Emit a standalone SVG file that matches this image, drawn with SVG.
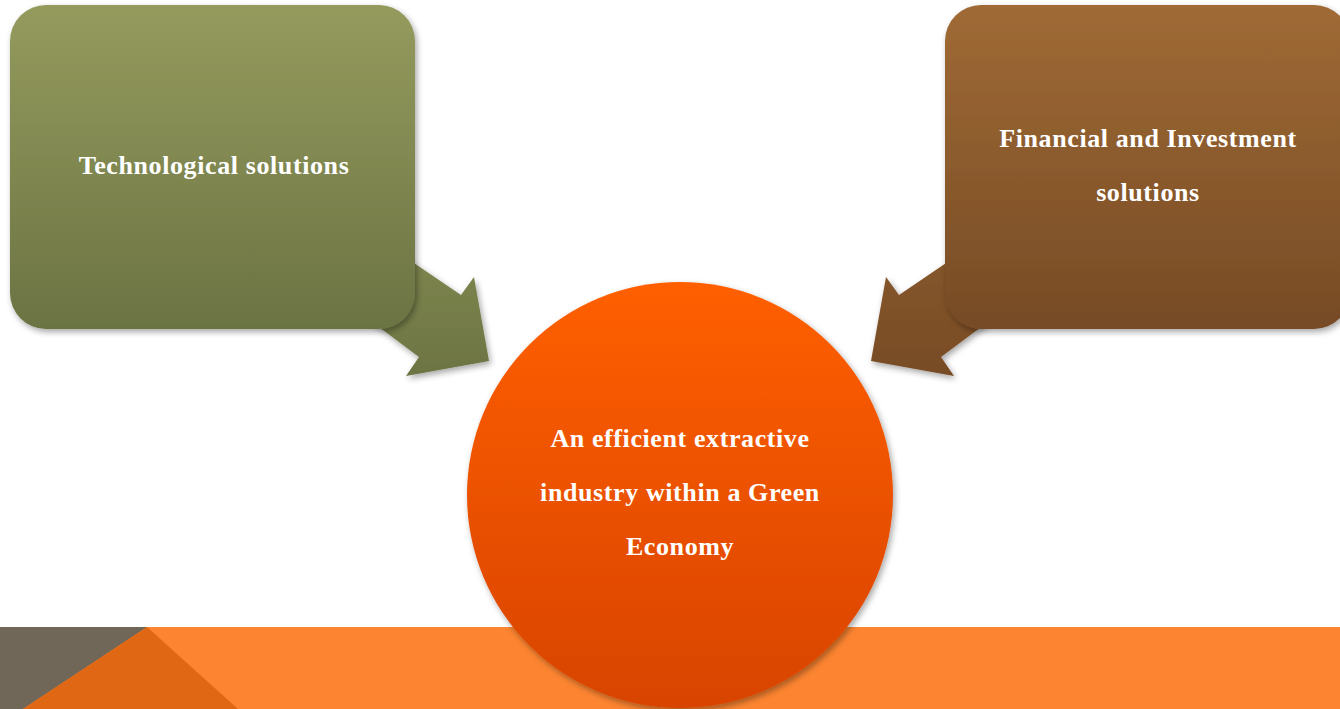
<svg xmlns="http://www.w3.org/2000/svg" width="1340" height="709" viewBox="0 0 1340 709">
  <defs>
    <linearGradient id="gGreen" x1="0" y1="0" x2="0" y2="1">
      <stop offset="0" stop-color="#959B5D"/>
      <stop offset="1" stop-color="#6B7343"/>
    </linearGradient>
    <linearGradient id="gBrown" x1="0" y1="0" x2="0" y2="1">
      <stop offset="0" stop-color="#A06A35"/>
      <stop offset="1" stop-color="#764B25"/>
    </linearGradient>
    <linearGradient id="gGreenArrow" x1="0" y1="0" x2="0" y2="1">
      <stop offset="0" stop-color="#858C53"/>
      <stop offset="1" stop-color="#6C7443"/>
    </linearGradient>
    <linearGradient id="gBrownArrow" x1="0" y1="0" x2="0" y2="1">
      <stop offset="0" stop-color="#8C5A2D"/>
      <stop offset="1" stop-color="#774C25"/>
    </linearGradient>
    <linearGradient id="gOrange" x1="0" y1="0" x2="0" y2="1">
      <stop offset="0" stop-color="#FF5F00"/>
      <stop offset="1" stop-color="#D84400"/>
    </linearGradient>
    <filter id="shadow" x="-10%" y="-10%" width="125%" height="125%">
      <feDropShadow dx="2" dy="3" stdDeviation="3" flood-color="#000" flood-opacity="0.35"/>
    </filter>
  </defs>
  <style>
    .lbl { font-family: "Liberation Serif", "DejaVu Serif", serif; font-weight: bold; font-size: 26px; letter-spacing: 0.6px; fill: #FFFFFF; text-anchor: middle; }
  </style>

  <rect x="0" y="0" width="1340" height="709" fill="#FFFFFF"/>

  <g id="band">
    <rect x="0" y="627" width="1340" height="82" fill="#FD8531"/>
    <polygon points="0,627 147,627 23,709 0,709" fill="#706758"/>
    <polygon points="147,627 238,709 23,709" fill="#E06713"/>
  </g>

  <g id="connectors">
    <polygon points="330,206 461,295 474,277 489,361 406,376 419,357 300,268" fill="url(#gGreenArrow)" filter="url(#shadow)"/>
    <polygon points="1030,206 899,295 886,277 871,361 954,376 941,357 1060,268" fill="url(#gBrownArrow)" filter="url(#shadow)"/>
  </g>

  <g id="node-tech">
    <rect x="10" y="5" width="405" height="324" rx="36" ry="36" fill="url(#gGreen)" filter="url(#shadow)"/>
    <text class="lbl" x="214" y="174">Technological solutions</text>
  </g>

  <g id="node-finance">
    <rect x="945" y="5" width="405" height="324" rx="36" ry="36" fill="url(#gBrown)" filter="url(#shadow)"/>
    <text class="lbl" x="1148" y="147">Financial and Investment</text>
    <text class="lbl" x="1148" y="201">solutions</text>
  </g>

  <g id="node-center">
    <circle cx="680" cy="495" r="213" fill="url(#gOrange)" filter="url(#shadow)"/>
    <text class="lbl" x="680" y="447">An efficient extractive</text>
    <text class="lbl" x="680" y="501">industry within a Green</text>
    <text class="lbl" x="680" y="555">Economy</text>
  </g>
</svg>
